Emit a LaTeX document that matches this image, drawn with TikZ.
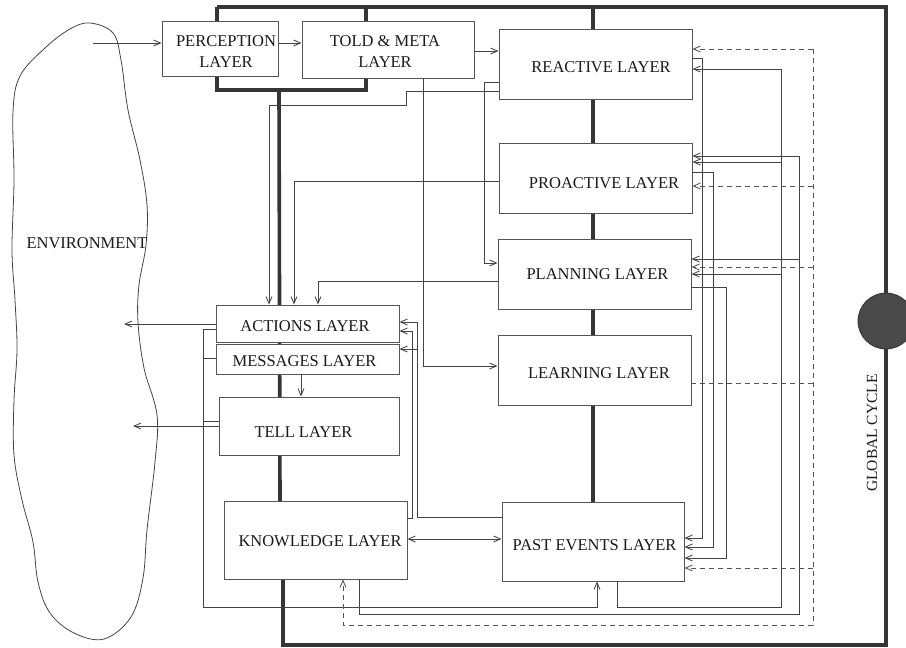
\documentclass[tikz,border=0pt]{standalone}
\usepackage{fontspec}
\setmainfont{Liberation Serif}
\usetikzlibrary{arrows.meta}
\definecolor{boxc}{HTML}{555555}
\definecolor{linec}{HTML}{444444}
\definecolor{busc}{HTML}{353535}
\definecolor{txtc}{HTML}{1a1a1a}
\definecolor{dashc}{HTML}{555555}
\begin{document}
\begin{tikzpicture}[x=1pt,y=-1pt,
  box/.style 2 args={draw=boxc, line width=0.9pt, fill=white, inner sep=0pt, minimum width=#1, minimum height=#2},
  lbl/.style={font=\fontsize{16.5}{21}\selectfont, text=txtc, inner sep=0pt, align=center},
  bus/.style={draw=busc, line width=3.6pt},
  plain/.style={draw=linec, line width=0.85pt},
  con/.style={plain, -{Straight Barb[length=7pt,width=6pt]}},
  con2/.style={plain, {Straight Barb[length=7pt,width=6pt]}-{Straight Barb[length=7pt,width=6pt]}},
  dplain/.style={draw=dashc, line width=0.85pt, dash pattern=on 5pt off 4pt},
  dcon/.style={dplain, -{Straight Barb[length=7pt,width=6pt]}}
]
\useasboundingbox (0,0) rectangle (906,648);
\clip (0,0) rectangle (906,648);
% helper levels
\foreach \v in {43,49,51,58,69,82,91,105,156,162,172,181,186,259,263,267,274,281,287,322,324,329,331,349,358,366,383,421,426,517,518,539,538,547,558,568,607,614,625}
  \coordinate (h\v) at (0,\v);
\foreach \u in {203,269,294,301,318,343,359,406,412,417,423,484,597,617,702,713,726,781,799,813}
  \coordinate (v\u) at (\u,0);

% environment
\draw[draw=linec, line width=0.8pt] plot[smooth cycle, tension=0.6] coordinates {
 (90,23) (113,33) (121,60) (128,110) (140,160) (147,205) (146,245) (139,285) (138,322)
 (144,368) (157,415) (155,462) (147,530) (143,578) (131,617) (104,639) (74,633) (50,613)
 (38,582) (33,542) (22,500) (14,455) (14,400) (17,350) (15,300) (12,250) (14,180)
 (13,112) (20,76) (45,48) (70,29)};
\node[lbl] (envt) at (87,243) {ENVIRONMENT};

% bus corners
\coordinate (tl) at (217,7);
\coordinate (tr) at (886,7);
\coordinate (br) at (886,645);
\coordinate (bl) at (283,645);
\coordinate (t2) at (366,7);
\coordinate (t3) at (593,7);
\coordinate (j1) at (217,90);
\coordinate (j2) at (366,90);
\coordinate (j3) at (279,90);

% boxes (positions)
\coordinate (cperc) at (220,48.5);
\coordinate (ctold) at (388,49.5);
\coordinate (cknow) at (315.5,540);

\draw[bus] (tl) -- (tr) -- (br) -- (bl) -- (283,579);
\draw[bus] (tl) -- (217,21);
\draw[bus] (t2) -- (366,21);
\draw[bus] (217,76) -- (j1) -- (j2) -- (366,78);
\draw[bus] (j3) -- (280,501);
\draw[bus] (t3) -- (593,502);
\node[circle, fill=busc!90, draw=busc, line width=0.8pt, minimum size=56pt, inner sep=0pt] (gc) at (886,321) {};
\node[lbl, font=\fontsize{15.5}{18}\selectfont, rotate=90] (gct) at (872,433) {GLOBAL CYCLE};

\node[box={116pt}{55pt}] (perc) at (cperc) {};
\node[box={172pt}{57pt}] (told) at (ctold) {};
\node[box={193pt}{70pt}] (reac) at (595.5,64) {};
\node[box={193pt}{70pt}] (proa) at (595.5,178) {};
\node[box={193pt}{70pt}] (plan) at (594.5,274) {};
\node[box={193pt}{70pt}] (lear) at (594.5,370) {};
\node[box={182pt}{79pt}] (past) at (593,541.5) {};
\node[box={183pt}{37pt}] (act) at (307.5,323.5) {};
\node[box={183pt}{30pt}] (msg) at (307.5,359) {};
\node[box={180pt}{58pt}] (tell) at (309,426) {};
\node[box={183pt}{78pt}] (know) at (cknow) {};

\node[lbl] (percT) at (226,52) {PERCEPTION\\LAYER};
\node[lbl] (toldT) at (385,52) {TOLD \& META\\LAYER};
\node[lbl] (reacT) at (601,67) {REACTIVE LAYER};
\node[lbl] (proaT) at (604,183) {PROACTIVE LAYER};
\node[lbl] (planT) at (597.5,274) {PLANNING LAYER};
\node[lbl] (learT) at (599,373) {LEARNING LAYER};
\node[lbl] (pastT) at (594.5,545) {PAST EVENTS LAYER};
\node[lbl] (actT) at (305,326) {ACTIONS LAYER};
\node[lbl] (msgT) at (304.5,361) {MESSAGES LAYER};
\node[lbl] (tellT) at (303.5,432) {TELL LAYER};
\node[lbl] (knowT) at (320,541) {KNOWLEDGE LAYER};

% environment links
\coordinate (envin) at (93,43);
\coordinate (envout1) at (124,324);
\coordinate (envout2) at (133,426);
\draw[con] (envin) -- (perc.west |- h43);
\draw[con] (act.west |- h324) -- (envout1);
\draw[con] (tell.west |- h426) -- (envout2);

% top chain
\draw[con] (perc.east |- h43) -- (told.west |- h43);
\draw[con] (told.east |- h51) -- (reac.west |- h51);
\draw[con] (reac.west |- h91) -- (v406 |- h91) -- (v406 |- h105) -- (v269 |- h105) -- (act.north -| v269);
\draw[con] (reac.west |- h82) -- (v484 |- h82) -- (v484 |- h263) -- (plan.west |- h263);
\draw[con] (told.south -| v423) -- (v423 |- h366) -- (lear.west |- h366);
\draw[con] (proa.west |- h181) -- (v294 |- h181) -- (act.north -| v294);
\draw[con] (plan.west |- h281) -- (v318 |- h281) -- (act.north -| v318);
\draw[con] (msg.south -| v301) -- (tell.north -| v301);

% left loop to past events
\draw[con] (act.west |- h329) -- (v203 |- h329) -- (v203 |- h607) -- (v597 |- h607) -- (past.south -| v597);
\draw[plain] (msg.west |- h358) -- (v203 |- h358);
\draw[plain] (tell.west |- h421) -- (v203 |- h421);

% knowledge / past events
\draw[con2] (know.east |- h539) -- (past.west |- h539);
\draw[con] (past.west |- h517) -- (v417 |- h517) -- (v417 |- h322) -- (act.east |- h322);
\draw[con] (v417 |- h349) -- (msg.east |- h349);
\draw[con] (know.east |- h518) -- (v412 |- h518) -- (v412 |- h331) -- (act.east |- h331);

% feedback from past events
\draw[con] (past.south -| v617) -- (v617 |- h607) -- (v781 |- h607) -- (v781 |- h69) -- (reac.east |- h69);
\draw[con] (v781 |- h162) -- (proa.east |- h162);
\draw[con] (v781 |- h274) -- (plan.east |- h274);
% feedback from knowledge
\draw[con] (know.south -| v359) -- (v359 |- h614) -- (v799 |- h614) -- (v799 |- h156) -- (proa.east |- h156);
\draw[con] (v799 |- h259) -- (plan.east |- h259);

% learning (dashed)
\draw[dplain] (lear.east |- h383) -- (v813 |- h383);
\draw[dcon] (v813 |- h49) -- (reac.east |- h49);
\draw[dcon] (v813 |- h49) -- (v813 |- h625) -- (v343 |- h625) -- (know.south -| v343);
\draw[dcon] (v813 |- h186) -- (proa.east |- h186);
\draw[dcon] (v813 |- h267) -- (plan.east |- h267);
\draw[dcon] (v813 |- h568) -- (past.east |- h568);

% layers to past events
\draw[con] (reac.east |- h58) -- (v702 |- h58) -- (v702 |- h538) -- (past.east |- h538);
\draw[con] (proa.east |- h172) -- (v713 |- h172) -- (v713 |- h547) -- (past.east |- h547);
\draw[con] (plan.east |- h287) -- (v726 |- h287) -- (v726 |- h558) -- (past.east |- h558);
\end{tikzpicture}
\end{document}
